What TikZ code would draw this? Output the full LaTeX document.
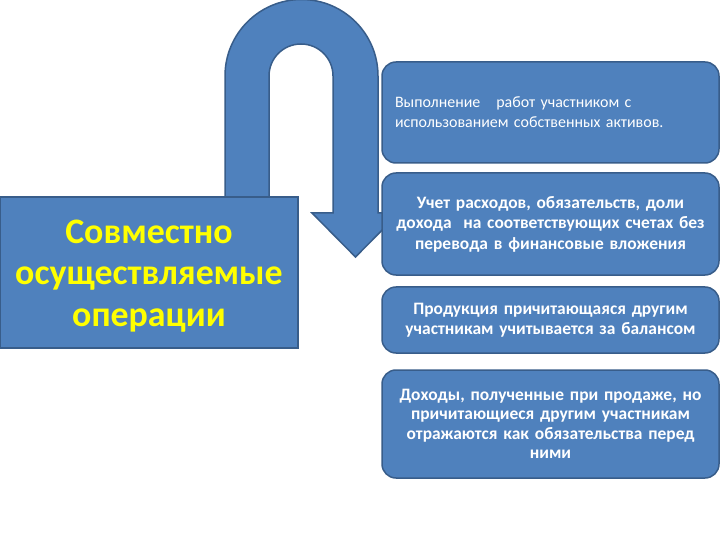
\documentclass[tikz,border=0pt]{standalone}
\usepackage{fontspec}
\setmainfont{Carlito}
\definecolor{boxblue}{RGB}{79,129,189}
\definecolor{boxedge}{RGB}{56,93,138}
\definecolor{titleyellow}{RGB}{255,255,0}
\begin{document}
\begin{tikzpicture}[x=1bp,y=-1bp,
  bluebox/.style={fill=boxblue,draw=boxedge,line width=1.5bp},
  roundbox/.style={bluebox,rounded corners=14bp,minimum width=337bp,inner sep=0bp,
     text=white,font=\bfseries\fontsize{17.5}{20.5}\selectfont,text width=330bp,align=center},
  titlebox/.style={bluebox,minimum width=298bp,minimum height=151bp,inner sep=0bp},
  titletext/.style={text=titleyellow,font=\bfseries\fontsize{36}{42}\selectfont,align=center}]
\useasboundingbox[fill=white] (0,0) rectangle (720,540);
% U-turn arrow
\draw[bluebox,line join=miter]
  (225,260) -- (225,76) arc[start angle=180,end angle=360,radius=76.5]
  -- (378,213) -- (399,213) -- (355.5,257) -- (312,213) -- (333,213) -- (333,76)
  arc[start angle=0,end angle=-180,radius=32] -- (269,260) -- cycle;
% left box
\node[titlebox] (main) at (149,272.5) {};
\node[titletext] (mainlabel) at (149,276) {Совместно\\осуществляемые\\операции};
% right boxes
\node[roundbox,minimum height=101bp,align=left,text width=311bp,
      font=\fontsize{16}{20}\selectfont] (b1) at (550.5,112.5)
  {\raisebox{-4bp}{\parbox{311bp}{Выполнение \ \ работ участником с\\использованием собственных активов.}}};
\node[roundbox,minimum height=102bp] (b2) at (550.5,224)
  {Учет расходов, обязательств, доли\\дохода \ на соответствующих счетах без\\перевода в финансовые вложения};
\node[roundbox,minimum height=66bp] (b3) at (550.5,320)
  {Продукция причитающаяся другим\\участникам учитывается за балансом};
\node[roundbox,minimum height=108bp,font=\bfseries\fontsize{17.5}{19.5}\selectfont] (b4) at (550.5,424)
  {\raisebox{-3bp}{\parbox{330bp}{\centering Доходы, полученные при продаже, но\\причитающиеся другим участникам\\отражаются как обязательства перед\\ними}}};
\end{tikzpicture}
\end{document}
